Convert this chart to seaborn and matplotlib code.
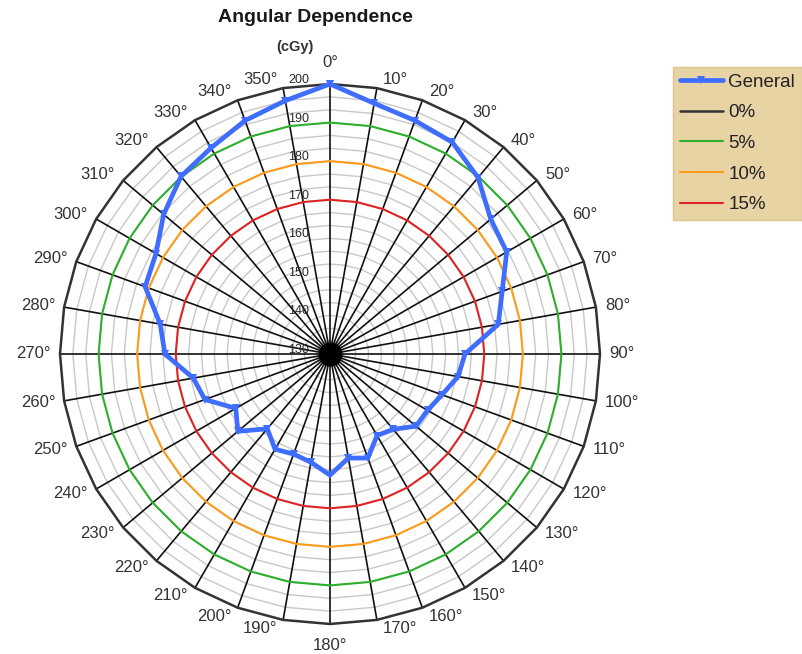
import numpy as np
import pandas as pd
import matplotlib
matplotlib.use("Agg")
import matplotlib.pyplot as plt
import seaborn as sns

# Measured dose at each gantry angle (cGy)
angles_deg = list(range(0, 360, 10))
general_dose = [200.0, 196.0, 194.4, 193.4, 189.7, 184.4, 182.9, 177.5, 174.3, 165.0,
                163.7, 160.9, 159.2, 159.1, 155.5, 154.4, 158.7, 157.4, 161.4, 158.5,
                157.6, 158.5, 155.3, 161.2, 158.2, 164.5, 166.0, 172.8, 174.7, 181.0,
                182.1, 186.3, 190.1, 191.7, 194.4, 196.7]

# Tolerance rings relative to the reference dose
reference_dose = 200
tolerance_labels = ["0%", "5%", "10%", "15%"]
tolerance_pct = [0, 5, 10, 15]
tolerance_colors = ["#333333", "#2DB02D", "#FF9A1A", "#E02424"]

radial_ticks = [130, 140, 150, 160, 170, 180, 190, 200]
r_min, r_max = 130, 200
grid_step = 10 / 3

sns.set_theme(style="white")
plt.rcParams["font.family"] = ["Liberation Sans", "DejaVu Sans"]

fig = plt.figure(figsize=(8.02, 6.54), dpi=100)
ax = fig.add_axes([60 / 802, 30 / 654, 540 / 802, 540 / 654], projection="polar")
ax.set_theta_zero_location("N")
ax.set_theta_direction(-1)
ax.set_ylim(r_min, r_max)
ax.grid(False)
ax.set_xticks([])
ax.set_yticks([])
ax.spines["polar"].set_visible(False)

theta_closed = np.deg2rad(angles_deg + [360])

# Light polygonal grid
n_grid = int(round((r_max - r_min) / grid_step))
for k in range(1, n_grid):
    r = r_min + k * grid_step
    ax.plot(theta_closed, [r] * len(theta_closed), color="#C8C8C8", lw=1.0,
            zorder=1, clip_on=False)

# Spokes every 10 degrees
for a in angles_deg:
    t = np.deg2rad(a)
    ax.plot([t, t], [r_min, r_max], color="#111111", lw=1.2, zorder=2, clip_on=False)

# General measurement
df_gen = pd.DataFrame({"theta": theta_closed,
                       "dose": general_dose + [general_dose[0]]})
sns.lineplot(data=df_gen, x="theta", y="dose", ax=ax, sort=False,
             color="#3F6DFF", lw=3.4, marker="v", markersize=6,
             markeredgewidth=0, label="General", zorder=6, clip_on=False)

# Tolerance rings
for lab, pct, col in zip(tolerance_labels, tolerance_pct, tolerance_colors):
    r = reference_dose * (1 - pct / 100)
    df_tol = pd.DataFrame({"theta": theta_closed, "dose": [r] * len(theta_closed)})
    sns.lineplot(data=df_tol, x="theta", y="dose", ax=ax, sort=False,
                 color=col, lw=1.8 if pct == 0 else 1.5, label=lab,
                 zorder=4 if pct else 3, clip_on=False)

ax.set_xlabel("")
ax.set_ylabel("")

# Center hub
ax.scatter([0], [r_min], s=260, color="black", zorder=5, clip_on=False)

# Angle labels, set beside the end of each spoke
for a in angles_deg:
    t = np.deg2rad(a)
    lab = f"{a}\u00b0"
    s, c = np.sin(t), np.cos(t)
    if a in (0, 180):
        ha, dx, dy = "center", 0, 21 * c
    elif a < 180:
        ha, dx, dy = "left", 5 + 4 * s, 9 * c
    else:
        ha, dx, dy = "right", -(5 + 4 * abs(s)), 9 * c
    ax.annotate(lab, xy=(t, r_max), xytext=(dx, dy),
                textcoords="offset pixels", ha=ha, va="center",
                fontsize=12, color="#333333", annotation_clip=False)

# Radial labels
for v in radial_ticks:
    ax.annotate(str(v), xy=(0, v), xytext=(-21, 4), textcoords="offset pixels",
                ha="right", va="center", fontsize=9, color="#2a2a2a",
                annotation_clip=False, zorder=7)

fig.text(315 / 802, 1 - 18 / 654, "Angular Dependence", ha="center", va="center",
         fontsize=14, fontweight="bold", color="#1a1a1a")
fig.text(295 / 802, 1 - 47 / 654, "(cGy)", ha="center", va="center",
         fontsize=10.5, fontweight="bold", color="#333333")

handles, labels = ax.get_legend_handles_labels()
if ax.get_legend():
    ax.get_legend().remove()
leg = fig.legend(handles, labels, loc="upper left",
                 bbox_to_anchor=(673 / 802, 1 - 67 / 654),
                 fontsize=13.5, frameon=True, fancybox=False,
                 facecolor="#E8D3A5", edgecolor="#D9C391", framealpha=1,
                 handlelength=2.3, handletextpad=0.3, labelspacing=0.72,
                 borderpad=0.35, borderaxespad=0)
for txt in leg.get_texts():
    txt.set_color("#222222")

fig.savefig("out.png", dpi=100, facecolor="white")
